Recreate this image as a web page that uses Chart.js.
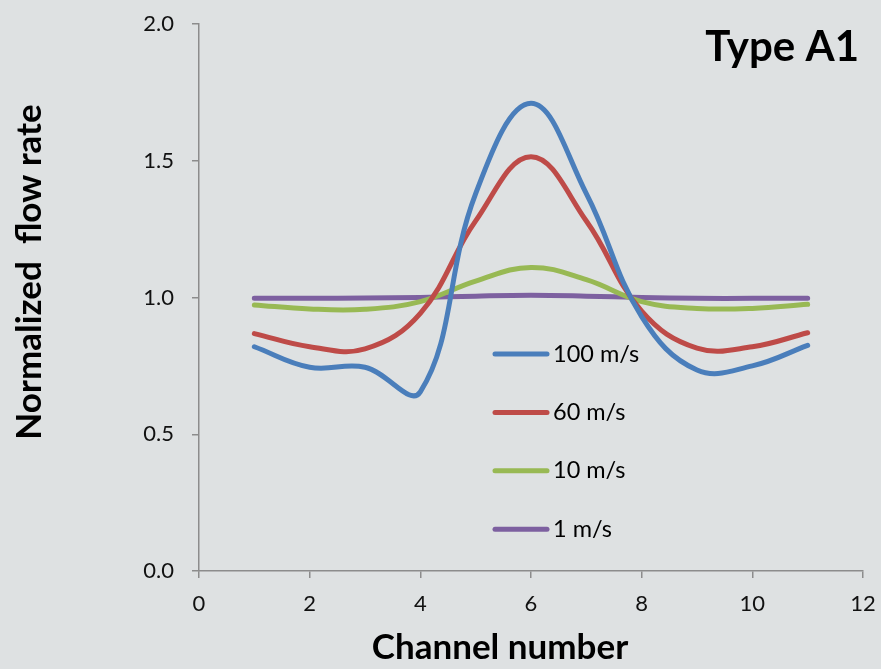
<!DOCTYPE html>
<html>
<head>
<meta charset="utf-8">
<script src="https://cdn.jsdelivr.net/npm/chart.js@4"></script>
<style>
  html, body { margin: 0; padding: 0; background: rgb(222, 225, 226); }
  #wrap { width: 881px; height: 669px; }
</style>
</head>
<body>
<div id="wrap"><canvas id="flow-chart"></canvas></div>
<script>
/*==== data ====*/
const channels = [1, 2, 3, 4, 5, 6, 7, 8, 9, 10, 11];
const flow_100 = [0.82, 0.745, 0.745, 0.655, 1.38, 1.71, 1.38, 0.93, 0.735, 0.75, 0.825];
const flow_60  = [0.868, 0.82, 0.812, 0.942, 1.28, 1.515, 1.28, 0.95, 0.815, 0.82, 0.871];
const flow_10  = [0.973, 0.958, 0.957, 0.985, 1.06, 1.11, 1.065, 0.985, 0.96, 0.96, 0.975];
const flow_1   = [0.997, 0.997, 0.998, 1.0, 1.005, 1.008, 1.005, 1.0, 0.997, 0.997, 0.997];
const series_labels = ['100 m/s', '60 m/s', '10 m/s', '1 m/s'];
const series_colors = ['#4a7ebb', '#be4b48', '#98b954', '#7d60a0'];
const x_ticks = [0, 2, 4, 6, 8, 10, 12];
const y_ticks = [0, 0.5, 1.0, 1.5, 2.0];
const x_title = 'Channel number';
const y_title = 'Normalized  flow rate';
const chart_tag = 'Type A1';

const FONT = 'Lato, "Open Sans", sans-serif';
const AXIS_GREY = '#8c8c8c';

function toPoints(values) {
    return channels.map(function(c, i) { return { x: c, y: values[i] }; });
}

const datasets = [flow_100, flow_60, flow_10, flow_1].map(function(vals, i) {
    return {
        label: series_labels[i],
        data: toPoints(vals),
        borderColor: series_colors[i],
        backgroundColor: series_colors[i],
        borderWidth: 5,
        pointRadius: 0,
        tension: 0.4,
        borderCapStyle: 'round',
        fill: false
    };
});

/*==== plugins ====*/
const background = {
    id: 'background',
    beforeDraw: function(chart) {
        const ctx = chart.ctx;
        ctx.save();
        ctx.fillStyle = 'rgb(222, 225, 226)';
        ctx.fillRect(0, 0, chart.width, chart.height);
        ctx.restore();
    }
};

// legend inside the plot, axis titles and the "Type A1" tag
const extras = {
    id: 'extras',
    afterDatasetsDraw: function(chart) {
        const ctx = chart.ctx;
        ctx.save();
        chart.data.datasets.forEach(function(ds, i) {
            const y = 354 + i * 58.4;
            ctx.strokeStyle = ds.borderColor;
            ctx.lineWidth = 5;
            ctx.lineCap = 'round';
            ctx.beginPath();
            ctx.moveTo(495, y);
            ctx.lineTo(547, y);
            ctx.stroke();
            ctx.fillStyle = '#000';
            ctx.font = '23.5px ' + FONT;
            ctx.textBaseline = 'middle';
            ctx.textAlign = 'left';
            ctx.fillText(ds.label, 553, y);
        });

        ctx.fillStyle = '#000';
        ctx.font = 'bold 42px ' + FONT;
        ctx.textAlign = 'right';
        ctx.textBaseline = 'middle';
        ctx.fillText(chart_tag, 859, 47);

        ctx.font = 'bold 35px ' + FONT;
        ctx.textAlign = 'center';
        ctx.fillText(x_title, 500, 648);

        ctx.translate(30, 272);
        ctx.rotate(-Math.PI / 2);
        ctx.fillText(y_title, 0, 0);
        ctx.restore();
    }
};

/*==== config ====*/
const config_flow = {
    type: 'line',
    data: { datasets: datasets },
    options: {
        responsive: true,
        maintainAspectRatio: false,
        animation: false,
        layout: { padding: { top: 24, right: 18, left: 0, bottom: 0 } },
        plugins: {
            legend: { display: false },
            tooltip: { enabled: false }
        },
        scales: {
            x: {
                type: 'linear',
                min: 0,
                max: 12,
                afterBuildTicks: function(scale) {
                    scale.ticks = x_ticks.map(function(v) { return { value: v }; });
                },
                afterFit: function(scale) {
                    scale.height = 98;
                    scale.paddingLeft = 0;
                    scale.paddingRight = 0;
                },
                grid: { drawOnChartArea: false, drawTicks: true, tickLength: 7, color: AXIS_GREY, lineWidth: 1.5 },
                border: { color: AXIS_GREY, width: 1.5 },
                ticks: { color: '#111', padding: 13, font: { family: FONT, size: 22 } }
            },
            y: {
                type: 'linear',
                min: 0,
                max: 2,
                afterBuildTicks: function(scale) {
                    scale.ticks = y_ticks.map(function(v) { return { value: v }; });
                },
                afterFit: function(scale) {
                    scale.width = 199;
                    scale.paddingTop = 0;
                    scale.paddingBottom = 0;
                },
                grid: { drawOnChartArea: false, drawTicks: true, tickLength: 7, color: AXIS_GREY, lineWidth: 1.5 },
                border: { color: AXIS_GREY, width: 1.5 },
                ticks: {
                    color: '#111',
                    padding: 18,
                    font: { family: FONT, size: 22 },
                    callback: function(v) { return Number(v).toFixed(1); }
                }
            }
        }
    },
    plugins: [background, extras]
};

/*===== render =====*/
var flowChart = new Chart(document.getElementById('flow-chart'), config_flow);
</script>
</body>
</html>
